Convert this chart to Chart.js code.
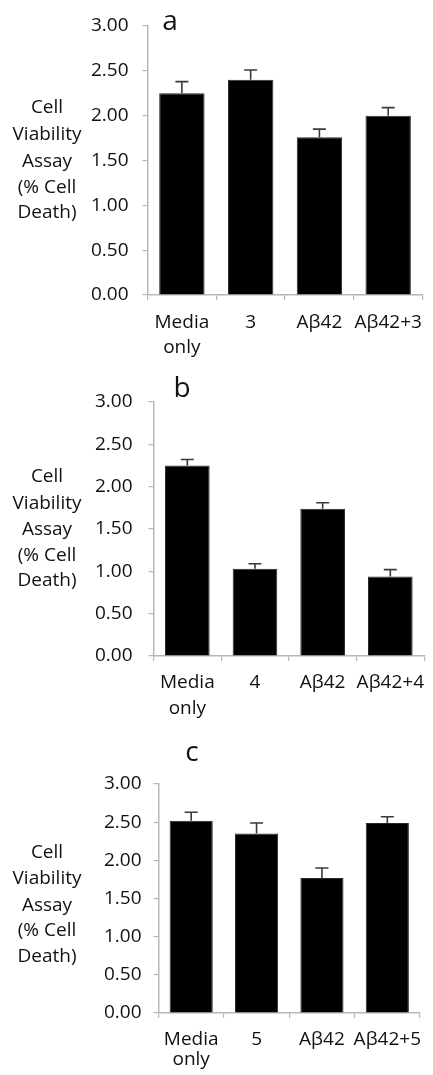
<!DOCTYPE html>
<html>
<head>
<meta charset="utf-8">
<script src="https://cdn.jsdelivr.net/npm/chart.js@4.4.1/dist/chart.umd.min.js"></script>
<style>
  html, body { margin: 0; padding: 0; background: #fff; }
  body { width: 433px; height: 1075px; position: relative; overflow: hidden; }
  canvas { position: absolute; left: 0; display: block; }
</style>
</head>
<body>
<canvas id="cA" width="433" height="360" style="top:0px"></canvas>
<canvas id="cB" width="433" height="360" style="top:360px"></canvas>
<canvas id="cC" width="433" height="355" style="top:720px"></canvas>
<script>
// ---- data ----
const categoriesA = [["Media", "only"], "3", "Aβ42", "Aβ42+3"];
const categoriesB = [["Media", "only"], "4", "Aβ42", "Aβ42+4"];
const categoriesC = [["Media", "only"], "5", "Aβ42", "Aβ42+5"];

const valuesA = [2.25, 2.40, 1.76, 2.00];
const errorsA = [0.13, 0.11, 0.09, 0.09];

const valuesB = [2.25, 1.03, 1.74, 0.94];
const errorsB = [0.07, 0.06, 0.07, 0.08];

const valuesC = [2.52, 2.35, 1.77, 2.49];
const errorsC = [0.11, 0.14, 0.13, 0.08];

const yTickValues = [0, 0.5, 1.0, 1.5, 2.0, 2.5, 3.0];
const yTickLabels = ["0.00", "0.50", "1.00", "1.50", "2.00", "2.50", "3.00"];

const yTitleLines = ["Cell", "Viability", "Assay", "(% Cell", "Death)"];
const panelLetters = ["a", "b", "c"];

const FONT = "'Open Sans', Lato, 'Liberation Sans', sans-serif";
const WEIGHT = "normal";
const AXIS_COLOR = "#b8b8b8";
const TEXT_COLOR = "#111";

const errorBarPlugin = {
  id: "errorBars",
  afterDatasetsDraw(chart, args, opts) {
    const ctx = chart.ctx;
    const meta = chart.getDatasetMeta(0);
    const ys = chart.scales.y;
    const ds = chart.data.datasets[0];
    ctx.save();
    ctx.strokeStyle = "#3a3a3a";
    ctx.lineWidth = 1.6;
    meta.data.forEach((bar, i) => {
      const v = ds.data[i];
      const e = opts.errors[i];
      const yb = ys.getPixelForValue(v);
      const yt = ys.getPixelForValue(v + e);
      ctx.beginPath();
      ctx.moveTo(bar.x, yb);
      ctx.lineTo(bar.x, yt);
      ctx.moveTo(bar.x - 6.5, yt);
      ctx.lineTo(bar.x + 6.5, yt);
      ctx.stroke();
    });
    ctx.restore();
  }
};

const textPlugin = {
  id: "panelText",
  afterDraw(chart, args, opts) {
    const ctx = chart.ctx;
    ctx.save();
    ctx.fillStyle = TEXT_COLOR;
    ctx.textAlign = "center";
    ctx.textBaseline = "middle";
    ctx.font = WEIGHT + " 19px " + FONT;
    opts.titleY.forEach((y, i) => {
      ctx.fillText(yTitleLines[i], 47, y);
    });
    ctx.font = WEIGHT + " 28px " + FONT;
    ctx.fillText(opts.letter, opts.letterX, opts.letterY);
    ctx.restore();
  }
};

function makeChart(id, cats, vals, errs, cfg) {
  return new Chart(document.getElementById(id), {
    type: "bar",
    data: {
      labels: cats,
      datasets: [{
        data: vals,
        backgroundColor: "#000",
        borderColor: "#2a2a2a",
        borderWidth: 1,
        barPercentage: 0.66,
        categoryPercentage: 1.0
      }]
    },
    options: {
      responsive: false,
      animation: false,
      devicePixelRatio: 1,
      layout: { padding: { top: cfg.top, right: cfg.right, left: 0, bottom: 0 } },
      plugins: {
        legend: { display: false },
        tooltip: { enabled: false },
        errorBars: { errors: errs },
        panelText: cfg.text
      },
      scales: {
        y: {
          min: 0, max: 3,
          afterFit: s => { s.width = cfg.yWidth; },
          afterBuildTicks: s => { s.ticks = yTickValues.map(v => ({ value: v })); },
          ticks: {
            callback: (v) => yTickLabels[yTickValues.indexOf(v)],
            color: TEXT_COLOR,
            font: { family: FONT, size: 19, weight: WEIGHT },
            padding: cfg.yPad
          },
          grid: { drawOnChartArea: false, drawTicks: true, tickLength: 5, color: AXIS_COLOR, lineWidth: 1.2 },
          border: { display: true, color: AXIS_COLOR, width: 1.5 }
        },
        x: {
          afterFit: s => { s.height = cfg.xHeight; },
          ticks: {
            color: TEXT_COLOR,
            font: { family: FONT, size: 19, weight: WEIGHT, lineHeight: cfg.xLine },
            padding: cfg.xPad,
            maxRotation: 0, minRotation: 0, autoSkip: false
          },
          grid: { offset: true, drawOnChartArea: false, drawTicks: true, tickLength: 5, color: AXIS_COLOR, lineWidth: 1.2 },
          border: { display: true, color: AXIS_COLOR, width: 1.5 }
        }
      }
    },
    plugins: [errorBarPlugin, textPlugin]
  });
}

makeChart("cA", categoriesA, valuesA, errorsA, {
  top: 26, right: 9, yWidth: 147.5, xHeight: 65, yPad: 14, xPad: 10, xLine: 25 / 19,
  text: { titleY: [108, 135, 162, 188, 213], letter: panelLetters[0], letterX: 170, letterY: 22 }
});
makeChart("cB", categoriesB, valuesB, errorsB, {
  top: 42, right: 0, yWidth: 153.5, xHeight: 64, yPad: 16, xPad: 9, xLine: 26 / 19,
  text: { titleY: [117, 144, 170, 196, 221], letter: panelLetters[1], letterX: 182, letterY: 29 }
});
makeChart("cC", categoriesC, valuesC, errorsC, {
  top: 64, right: 0, yWidth: 158.5, xHeight: 62, yPad: 12, xPad: 12, xLine: 20 / 19,
  text: { titleY: [133, 159, 186, 211, 237], letter: panelLetters[2], letterX: 192, letterY: 33 }
});
</script>
</body>
</html>
